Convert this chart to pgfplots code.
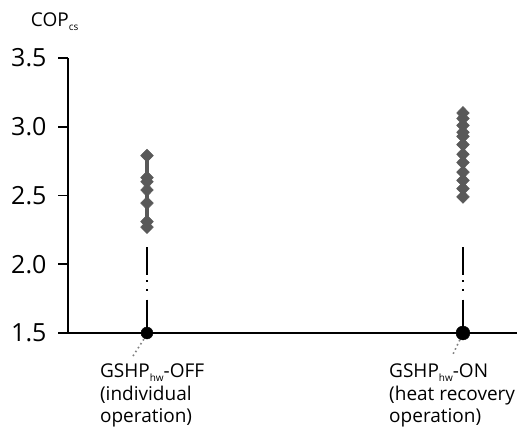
\documentclass[border=0pt]{standalone}
\usepackage{pgfplots}
\pgfplotsset{compat=1.18}
\usepackage{fontspec}
\setmainfont{Open Sans}
\newcommand{\sub}[1]{\raisebox{-4pt}{\fontsize{10}{10}\selectfont #1}}
\begin{document}
\begin{tikzpicture}
\definecolor{mk}{HTML}{595959}
\begin{axis}[
  scale only axis, width=449pt, height=275pt,
  xmin=0.75, xmax=2.171, ymin=1.5, ymax=3.5,
  axis x line=bottom, axis y line=left,
  axis line style={-, line width=1.6pt, black},
  xtick=\empty,
  ytick={1.5,2.0,2.5,3.0,3.5},
  tick align=outside, major tick length=10pt,
  ytick style={line width=1.6pt, black},
  /pgf/number format/assume math mode=true,
  yticklabel={\pgfmathprintnumber[fixed,fixed zerofill,precision=1]{\tick}},
  yticklabel style={font=\fontsize{25}{30}\selectfont, xshift=-8pt},
  clip=false,
]
% connectors
\addplot[black, line width=1.1pt, dash pattern={on 28pt off 5pt on 1.8pt off 7pt on 1.8pt off 9pt}] coordinates {(1,2.125) (1,1.5)};
\addplot[black, line width=1.1pt, dash pattern={on 28pt off 5pt on 1.8pt off 7pt on 1.8pt off 9pt}] coordinates {(2,2.125) (2,1.5)};
% series left
\addplot[mk, line width=4pt, mark=diamond*, mark size=6.5pt, mark options={xscale=1.3, solid, fill=mk, draw=mk, line width=0.5pt}] coordinates {
(1,2.27) (1,2.31) (1,2.445) (1,2.54) (1,2.60) (1,2.63) (1,2.79)};
% series right
\addplot[mk, line width=4pt, mark=diamond*, mark size=6.5pt, mark options={xscale=1.3, solid, fill=mk, draw=mk, line width=0.5pt}] coordinates {
(2,2.49) (2,2.55) (2,2.61) (2,2.67) (2,2.74) (2,2.80) (2,2.87) (2,2.93) (2,2.96) (2,3.01) (2,3.06) (2,3.10)};
% base points
\addplot[only marks, mark=*, mark size=6pt, black] coordinates {(1,1.5)};
\addplot[only marks, mark=*, mark size=7pt, black] coordinates {(2,1.5)};
% leaders
\draw[gray, line width=1.6pt, dash pattern={on 1.6pt off 3pt}] (axis cs:0.99,1.455) -- (axis cs:0.955,1.33);
\draw[gray, line width=1.6pt, dash pattern={on 1.6pt off 3pt}] (axis cs:1.99,1.45) -- (axis cs:1.965,1.33);
% labels
\node[anchor=north west, align=left, inner sep=0pt, font=\fontsize{19}{22.5}\selectfont] at (axis cs:0.851,1.275)
  {GSHP\sub{hw}-OFF\\(individual\\operation)};
\node[anchor=north west, align=left, inner sep=0pt, font=\fontsize{19}{22.5}\selectfont] at (axis cs:1.766,1.275)
  {GSHP\sub{hw}-ON\\(heat recovery\\operation)};
% y label
\node[anchor=south west, inner sep=0pt, font=\fontsize{19}{22}\selectfont] at (axis cs:0.632,3.70)
  {COP\sub{cs}};
\end{axis}
\pgfresetboundingbox
\path[use as bounding box] (-68pt,-101pt) rectangle (449pt,333pt);
\end{tikzpicture}
\end{document}
